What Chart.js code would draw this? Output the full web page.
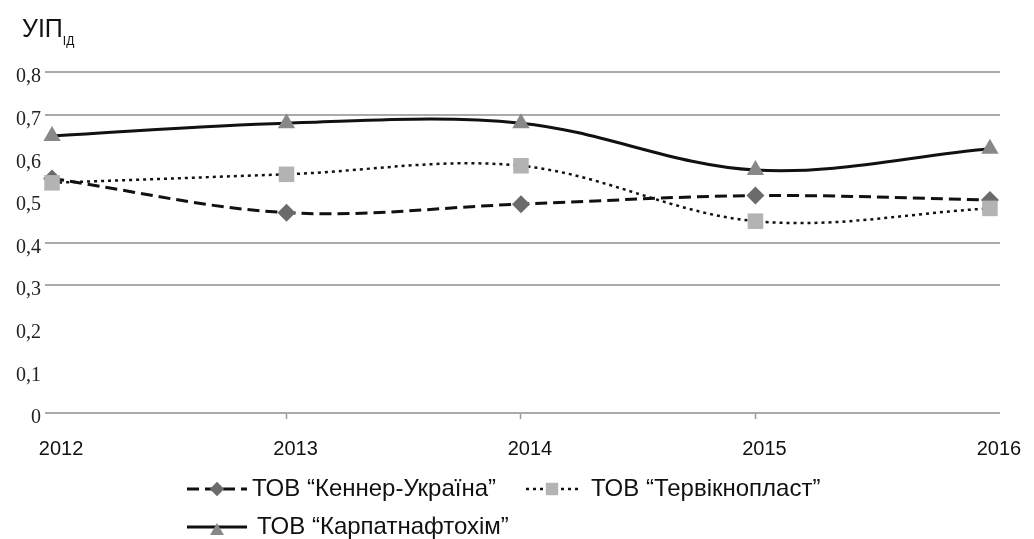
<!DOCTYPE html>
<html lang="uk">
<head>
<meta charset="UTF-8">
<title>УІП</title>
<script src="https://cdn.jsdelivr.net/npm/chart.js"></script>
<style>
  html, body { margin: 0; padding: 0; background: #fff; }
  #wrap { width: 1034px; height: 539px; position: relative; }
</style>
</head>
<body>
<div id="wrap"><canvas id="uipChart" width="1034" height="539"></canvas></div>
<script>
// data
var years = [2012, 2013, 2014, 2015, 2016];
var kennerValues = [0.55, 0.47, 0.49, 0.51, 0.50];
var tervValues = [0.54, 0.56, 0.58, 0.45, 0.48];
var karpatValues = [0.65, 0.68, 0.68, 0.57, 0.62];
var seriesNames = ['ТОВ “Кеннер-Україна”', 'ТОВ “Тервікнопласт”', 'ТОВ “Карпатнафтохім”'];
var yTicks = [0, 0.1, 0.2, 0.3, 0.4, 0.5, 0.6, 0.7, 0.8];
var visibleGrid = [0, 0.3, 0.4, 0.7, 0.8];

function toPoints(values) {
    return years.map((year, i) => ({ x: year, y: values[i] }));
}

var datasets = [
    {
        label: seriesNames[0],
        data: toPoints(kennerValues),
        order: 3,
        borderColor: '#111',
        borderWidth: 3,
        borderDash: [12, 6],
        pointStyle: 'rectRot',
        pointRadius: 9,
        pointBackgroundColor: '#6b6b6b',
        pointBorderWidth: 0,
    },
    {
        label: seriesNames[1],
        data: toPoints(tervValues),
        order: 2,
        borderColor: '#111',
        borderWidth: 2.5,
        borderDash: [3, 4],
        pointStyle: 'rect',
        pointRadius: 11,
        pointBackgroundColor: '#b3b3b3',
        pointBorderWidth: 0,
    },
    {
        label: seriesNames[2],
        data: toPoints(karpatValues),
        order: 1,
        borderColor: '#111',
        borderWidth: 3,
        borderDash: [],
        pointStyle: 'triangle',
        pointRadius: 10,
        pointBackgroundColor: '#888',
        pointBorderWidth: 0,
    }
];
datasets.forEach(ds => { ds.tension = 0.35; ds.fill = false; ds.clip = false; });

// title with subscript
var titlePlugin = {
    id: 'titlePlugin',
    afterDraw(chart) {
        var ctx = chart.ctx;
        ctx.save();
        ctx.fillStyle = '#111';
        ctx.textBaseline = 'alphabetic';
        ctx.font = '25px "Liberation Sans", Arial, sans-serif';
        ctx.fillText('УІП', 22, 37);
        var w = ctx.measureText('УІП').width;
        ctx.font = '12px "Liberation Sans", Arial, sans-serif';
        ctx.fillText('ІД', 22 + w, 45);
        ctx.restore();
    }
};

// legend: two rows, left aligned
var legendSlots = [
    { x: 187, y: 489, len: 60, textX: 252 },
    { x: 526, y: 489, len: 52, textX: 591 },
    { x: 187, y: 527, len: 60, textX: 257 }
];
var legendPlugin = {
    id: 'legendPlugin',
    afterDraw(chart) {
        var ctx = chart.ctx;
        chart.data.datasets.forEach((ds, i) => {
            var s = legendSlots[i];
            ctx.save();
            ctx.strokeStyle = ds.borderColor;
            ctx.lineWidth = ds.borderWidth;
            ctx.setLineDash(ds.borderDash);
            ctx.beginPath();
            ctx.moveTo(s.x, s.y);
            ctx.lineTo(s.x + s.len, s.y);
            ctx.stroke();
            ctx.setLineDash([]);
            ctx.fillStyle = ds.pointBackgroundColor;
            ctx.strokeStyle = ds.pointBackgroundColor;
            Chart.helpers.drawPoint(ctx, {
                pointStyle: ds.pointStyle,
                radius: ds.pointRadius * 0.8,
                rotation: 0,
                borderWidth: 0
            }, s.x + s.len / 2, s.y + (ds.pointStyle === 'triangle' ? 4 : 0));
            ctx.fillStyle = '#111';
            ctx.font = '24px "Liberation Sans", Arial, sans-serif';
            ctx.textBaseline = 'middle';
            ctx.fillText(ds.label, s.textX, s.y);
            ctx.restore();
        });
    }
};

var ctx = document.getElementById('uipChart').getContext('2d');
var uipChart = new Chart(ctx, {
    type: 'line',
    data: { datasets: datasets },
    options: {
        responsive: false,
        animation: false,
        layout: { padding: { top: 72, right: 34, left: 0, bottom: 0 } },
        plugins: {
            legend: { display: false },
            title: { display: false },
            tooltip: { enabled: false }
        },
        scales: {
            x: {
                type: 'linear',
                min: 2011.97,
                max: 2016.043,
                afterBuildTicks(scale) {
                    scale.ticks = years.map(v => ({ value: v }));
                },
                afterFit(scale) { scale.height = 126; },
                border: { display: false },
                grid: {
                    drawOnChartArea: false,
                    drawTicks: true,
                    tickLength: 6,
                    tickWidth: 1.5,
                    tickColor: c => (c.tick && (c.tick.value === years[0] || c.tick.value === years[years.length - 1])) ? 'rgba(0,0,0,0)' : '#999'
                },
                ticks: {
                    padding: 18,
                    labelOffset: 9,
                    color: '#111',
                    font: { family: '"Liberation Sans", Arial, sans-serif', size: 20 },
                    callback: v => String(v)
                }
            },
            y: {
                min: 0,
                max: 0.8,
                afterBuildTicks(scale) {
                    scale.ticks = yTicks.map(v => ({ value: v }));
                },
                afterFit(scale) { scale.width = 45; },
                border: { display: false },
                grid: {
                    drawTicks: false,
                    lineWidth: 2,
                    color: c => visibleGrid.some(g => Math.abs(g - c.tick.value) < 1e-6) ? '#aaa' : 'rgba(0,0,0,0)'
                },
                ticks: {
                    padding: 4,
                    labelOffset: 5,
                    color: '#222',
                    font: { family: '"Liberation Serif", "Times New Roman", serif', size: 20 },
                    callback: v => (Math.round(v * 10) / 10).toString().replace('.', ',')
                }
            }
        }
    },
    plugins: [titlePlugin, legendPlugin]
});
</script>
</body>
</html>
